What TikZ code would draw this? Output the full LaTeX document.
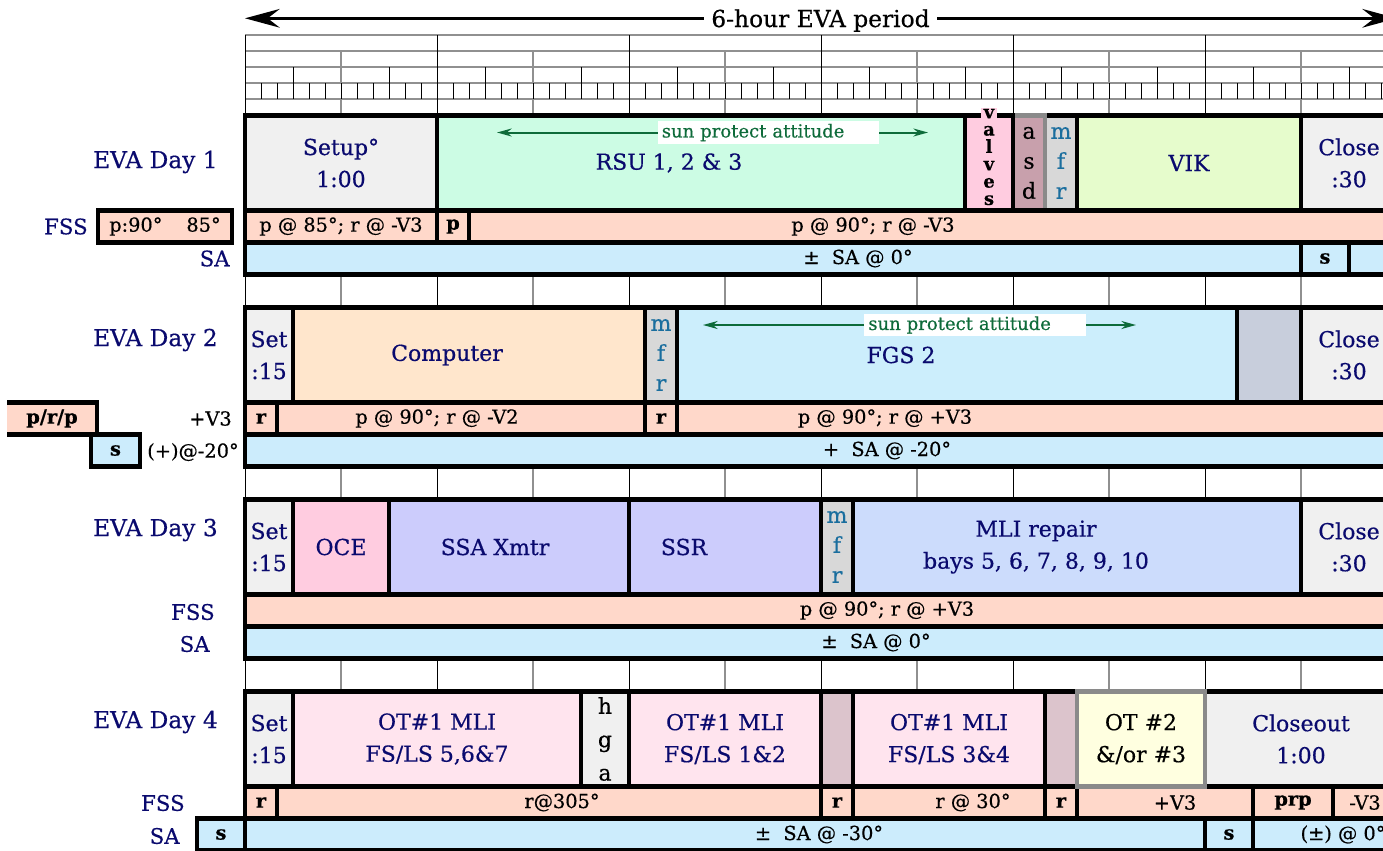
\documentclass[tikz,border=0pt]{standalone}
\usepackage{fontspec}
\setmainfont{DejaVu Serif}[FakeBold=0.45]
\usepackage{tikz}
\usetikzlibrary{arrows.meta}

\definecolor{Navy}{HTML}{0A0A6E}
\definecolor{MfrTeal}{HTML}{1A6E9E}
\definecolor{SunGreen}{HTML}{0E6B3A}
\definecolor{SetGray}{HTML}{F0F0F0}
\definecolor{RsuMint}{HTML}{CCFCE4}
\definecolor{ValvePink}{HTML}{FFCCE0}
\definecolor{AsdMauve}{HTML}{C8A0AC}
\definecolor{MfrGray}{HTML}{D8D8D8}
\definecolor{VikLime}{HTML}{E6FCCC}
\definecolor{FssPeach}{HTML}{FFD8CA}
\definecolor{SaBlue}{HTML}{CCECFC}
\definecolor{CompTan}{HTML}{FFE6CC}
\definecolor{FgsBlue}{HTML}{CCEEFC}
\definecolor{IdleSlate}{HTML}{C8CEDC}
\definecolor{SsaLilac}{HTML}{CCCCFC}
\definecolor{MliBlue}{HTML}{CCDCFC}
\definecolor{OtPink}{HTML}{FFE4EE}
\definecolor{GapMauve}{HTML}{DCC4CC}
\definecolor{OtCream}{HTML}{FFFFE0}
\definecolor{FrameGray}{HTML}{8A8A8A}
\definecolor{RuleGray}{HTML}{909090}

% font sizes (1px = 0.75pt)
\newcommand\titlefont{\fontsize{17.5}{21}\selectfont}
\newcommand\lblfont{\fontsize{17.5}{21}\selectfont}
\newcommand\sidefont{\fontsize{16}{19}\selectfont}
\newcommand\actfont{\fontsize{16.5}{24}\selectfont}
\newcommand\stkfont{\fontsize{16.5}{22.5}\selectfont}
\newcommand\attfont{\fontsize{14.5}{17}\selectfont}
\newcommand\sunfont{\fontsize{13.5}{16}\selectfont}
\newcommand\valvefont{\fontsize{13.5}{13}\selectfont}

% row edges of a day block (Day 1 values, later days are shifted)
\newcommand\actT{115.5}
\newcommand\actB{210.5}
\newcommand\fssB{242.5}
\newcommand\saB{274.5}

% \timeslot[opts]{name}{style}{x1}{x2}{y1}{y2}{text}
\newcommand\timeslot[8][]{%
  \node[#3, minimum width={(#5-#4)*0.75pt}, minimum height={(#7-#6)*0.75pt}, #1]
    (#2) at ({(#4+#5)/2},{(#6+#7)/2}) {#8};}

\tikzset{
  % Activity cell: thick black frame, fill colour as argument
  act/.style={
    rectangle, draw=black, line width=3.4pt, fill=#1,
    inner sep=0pt, outer sep=0pt,
    align=center, text=Navy, font=\actfont
  },
  % Attitude cell (FSS and SA rows)
  att/.style={
    rectangle, draw=black, line width=3.4pt, fill=#1,
    inner sep=0pt, outer sep=0pt,
    align=center, text=black, font=\attfont
  },
  attb/.style={font=\attfont\bfseries},
  % Letters stacked one per line in a narrow cell
  stk/.style={font=\stkfont, text=#1},
  % Text placed inside a wide cell
  acttxt/.style={text=Navy, font=\actfont, align=center, inner sep=0pt},
  atttxt/.style={text=black, font=\attfont, inner sep=0pt},
  valvetxt/.style={fill=ValvePink, font=\valvefont\bfseries, align=center,
    inner xsep=1.5pt, inner ysep=1pt},
  % Labels at the left
  daylbl/.style={anchor=east, text=Navy, font=\lblfont, inner sep=0pt},
  rowlbl/.style={anchor=east, text=Navy, font=\sidefont, inner sep=0pt},
  % Ruler
  rulerline/.style={RuleGray, line width=0.9pt},
  hourtick/.style={black, line width=0.75pt},
  halftick/.style={RuleGray, line width=1.6pt},
  % Sun protect attitude span
  sunlbl/.style={fill=white, text=SunGreen, font=\sunfont,
    text width=160pt, align=left, inner xsep=3pt, inner ysep=2pt,
    minimum height=17pt},
  sunarr/.style={-{Stealth[length=11pt,width=6pt]}, line width=1.5pt, color=SunGreen},
  % 6-hour span
  evatitle/.style={font=\titlefont, inner xsep=5.5pt, inner ysep=0pt},
  evaspan/.style={-{Stealth[length=26pt,width=14pt,inset=9pt]}, line width=2.2pt}
}

\begin{document}
\begin{tikzpicture}[x=0.75pt, y=-0.75pt]
  \useasboundingbox (0,0) rectangle (1383,850);

  % ---- HEADER ----
  \node[evatitle, anchor=base] (evat) at (820.5,27) {6-hour EVA period};
  \coordinate (evaL) at (245,18.3);
  \coordinate (evaR) at (1397,18.3);
  \draw[evaspan] (evat.west |- evaL) -- (evaL);
  \draw[evaspan] (evat.east |- evaR) -- (evaR);

  % ---- RULER: hour / half / quarter / 5 min ----
  \foreach \y in {35,51,67,83,99}
    \draw[rulerline] (245,\y) -- (1397,\y);
  \foreach \k in {0,...,71}
    \draw[hourtick] ({245+16*\k},83) -- ({245+16*\k},99);
  \foreach \k in {0,...,11}
    \draw[hourtick] ({293+96*\k},67) -- ({293+96*\k},83);
  \foreach \k in {0,...,5} {
    \draw[halftick] ({341+192*\k},51) -- ({341+192*\k},83);
    \draw[halftick] ({341+192*\k},99) -- ({341+192*\k},\actT);
  }
  \foreach \k in {0,...,6}
    \draw[hourtick] ({245+192*\k},35) -- ({245+192*\k},\actT);

  % ticks between the day blocks
  \foreach \g in {274.5,466.5,658.5} {
    \foreach \k in {0,...,6}
      \draw[hourtick] ({245+192*\k},\g) -- ({245+192*\k},{\g+33});
    \foreach \k in {0,...,5}
      \draw[halftick] ({341+192*\k},\g) -- ({341+192*\k},{\g+33});
  }

  % ---- EVA DAY 1 ----
  \timeslot{d1set}{act=SetGray}{245}{437}{\actT}{\actB}{Setup°\\1:00}
  \timeslot{d1rsu}{act=RsuMint}{437}{965}{\actT}{\actB}{}
  \node[acttxt] (d1rsut) at (669,163) {RSU 1, 2 \& 3};
  \timeslot{d1vik}{act=VikLime}{1077}{1301}{\actT}{\actB}{VIK}
  \timeslot{d1cls}{act=SetGray}{1301}{1397}{\actT}{\actB}{Close\\:30}
  \timeslot[stk=MfrTeal]{d1mfr}{act=MfrGray}{1045}{1077}{\actT}{\actB}{m\\f\\r}
  \timeslot[stk=black, draw=FrameGray]{d1asd}{act=AsdMauve}{1013}{1045}{\actT}{\actB}{a\\s\\d}
  \timeslot{d1vlv}{act=ValvePink}{965}{1013}{\actT}{\actB}{}
  \node[valvetxt] (d1vlvt) at (989,157) {v\\a\\l\\v\\e\\s};

  \node[sunlbl] (d1sun) at (768.5,132.5) {sun protect attitude};
  \coordinate (d1sunL) at (497,132.5);
  \coordinate (d1sunR) at (928,132.5);
  \draw[sunarr] (d1sun.west) -- (d1sunL);
  \draw[sunarr] (d1sun.east) -- (d1sunR);

  \timeslot{d1f1}{att=FssPeach}{245}{437}{\actB}{\fssB}{p @ 85°; r @ -V3}
  \timeslot[attb]{d1f2}{att=FssPeach}{437}{469}{\actB}{\fssB}{p}
  \timeslot{d1f3}{att=FssPeach}{469}{1397}{\actB}{\fssB}{}
  \node[atttxt] (d1f3t) at (873,226.5) {p @ 90°; r @ -V3};

  \timeslot{d1s1}{att=SaBlue}{245}{1301}{\fssB}{\saB}{}
  \node[atttxt] (d1s1t) at (858,258.5) {±~ SA @ 0°};
  \timeslot[attb]{d1s2}{att=SaBlue}{1301}{1349}{\fssB}{\saB}{s}
  \timeslot{d1s3}{att=SaBlue}{1349}{1397}{\fssB}{\saB}{}

  \node[daylbl] (d1lbl) at (218,162) {EVA Day 1};
  \node[rowlbl] (d1fss) at (88,226.5) {FSS};
  \timeslot{d1pin}{att=FssPeach}{98}{232}{\actB}{\fssB}{p:90°\hspace{18pt}85°}
  \node[rowlbl] (d1sa) at (230,258.5) {SA};

  % ---- EVA DAY 2 ----
  \begin{scope}[shift={(0,192)}]
    \timeslot{d2set}{act=SetGray}{245}{293}{\actT}{\actB}{Set\\:15}
    \timeslot{d2cmp}{act=CompTan}{293}{645}{\actT}{\actB}{}
    \node[acttxt] (d2cmpt) at (447,163) {Computer};
    \timeslot[stk=MfrTeal]{d2mfr}{act=MfrGray}{645}{677}{\actT}{\actB}{m\\f\\r}
    \timeslot{d2fgs}{act=FgsBlue}{677}{1237}{\actT}{\actB}{}
    \node[acttxt] (d2fgst) at (901,163) {FGS 2};
    \timeslot{d2idle}{act=IdleSlate}{1237}{1301}{\actT}{\actB}{}
    \timeslot{d2cls}{act=SetGray}{1301}{1397}{\actT}{\actB}{Close\\:30}

    \node[sunlbl] (d2sun) at (975,133) {sun protect attitude};
    \coordinate (d2sunL) at (703,133);
    \coordinate (d2sunR) at (1136,133);
    \draw[sunarr] (d2sun.west) -- (d2sunL);
    \draw[sunarr] (d2sun.east) -- (d2sunR);

    \timeslot[attb]{d2f1}{att=FssPeach}{245}{277}{\actB}{\fssB}{r}
    \timeslot{d2f2}{att=FssPeach}{277}{645}{\actB}{\fssB}{}
    \node[atttxt] (d2f2t) at (437,226.5) {p @ 90°; r @ -V2};
    \timeslot[attb]{d2f3}{att=FssPeach}{645}{677}{\actB}{\fssB}{r}
    \timeslot{d2f4}{att=FssPeach}{677}{1397}{\actB}{\fssB}{}
    \node[atttxt] (d2f4t) at (885,226.5) {p @ 90°; r @ +V3};

    \timeslot{d2s1}{att=SaBlue}{245}{1397}{\fssB}{\saB}{}
    \node[atttxt] (d2s1t) at (887,258.5) {+~ SA @ -20°};

    \node[daylbl] (d2lbl) at (218,148) {EVA Day 2};
    \timeslot[attb, draw=none]{d2prp}{att=FssPeach}{7}{97}{\actB}{\fssB}{p/r/p}
    \draw[line width=3.4pt] (d2prp.north west) -- (d2prp.north east)
      -- (d2prp.south east) -- (d2prp.south west);
    \node[atttxt, anchor=east] (d2v3) at (232,226.5) {+V3};
    \timeslot[attb]{d2sw}{att=SaBlue}{91}{140}{\fssB}{\saB}{s}
    \node[atttxt, anchor=west] (d2sw20) at (147,260) {(+)@-20°};
  \end{scope}

  % ---- EVA DAY 3 ----
  \begin{scope}[shift={(0,384)}]
    \timeslot{d3set}{act=SetGray}{245}{293}{\actT}{\actB}{Set\\:15}
    \timeslot{d3oce}{act=ValvePink}{293}{389}{\actT}{\actB}{OCE}
    \timeslot{d3ssa}{act=SsaLilac}{389}{629}{\actT}{\actB}{}
    \node[acttxt] (d3ssat) at (495,163) {SSA Xmtr};
    \timeslot{d3ssr}{act=SsaLilac}{629}{821}{\actT}{\actB}{}
    \node[acttxt] (d3ssrt) at (684,163) {SSR};
    \timeslot[stk=MfrTeal]{d3mfr}{act=MfrGray}{821}{853}{\actT}{\actB}{m\\f\\r}
    \timeslot{d3mli}{act=MliBlue}{853}{1301}{\actT}{\actB}{}
    \node[acttxt] (d3mlit) at (1036,163) {MLI repair\\bays 5, 6, 7, 8, 9, 10};
    \timeslot{d3cls}{act=SetGray}{1301}{1397}{\actT}{\actB}{Close\\:30}

    \timeslot{d3f1}{att=FssPeach}{245}{1397}{\actB}{\fssB}{}
    \node[atttxt] (d3f1t) at (887,226.5) {p @ 90°; r @ +V3};
    \timeslot{d3s1}{att=SaBlue}{245}{1397}{\fssB}{\saB}{}
    \node[atttxt] (d3s1t) at (876,258.5) {±~ SA @ 0°};

    \node[daylbl] (d3lbl) at (218,146) {EVA Day 3};
    \node[rowlbl] (d3fss) at (215,228) {FSS};
    \node[rowlbl] (d3sa) at (210,260) {SA};
  \end{scope}

  % ---- EVA DAY 4 ----
  \begin{scope}[shift={(0,576)}]
    \timeslot{d4set}{act=SetGray}{245}{293}{\actT}{\actB}{Set\\:15}
    \timeslot{d4ot1}{act=OtPink}{293}{581}{\actT}{\actB}{OT\#1 MLI\\FS/LS 5,6\&7}
    \timeslot[stk=black, font=\fontsize{16.5}{25}\selectfont]{d4hga}{act=SetGray}{581}{629}{\actT}{\actB}{h\\g\\a}
    \timeslot{d4ot2}{act=OtPink}{629}{821}{\actT}{\actB}{OT\#1 MLI\\FS/LS 1\&2}
    \timeslot{d4gap1}{act=GapMauve}{821}{853}{\actT}{\actB}{}
    \timeslot{d4ot3}{act=OtPink}{853}{1045}{\actT}{\actB}{OT\#1 MLI\\FS/LS 3\&4}
    \timeslot{d4gap2}{act=GapMauve}{1045}{1077}{\actT}{\actB}{}
    \timeslot{d4cls}{act=SetGray}{1205}{1397}{\actT}{\actB}{Closeout\\1:00}

    \timeslot[attb]{d4f1}{att=FssPeach}{245}{277}{\actB}{\fssB}{r}
    \timeslot{d4f2}{att=FssPeach}{277}{821}{\actB}{\fssB}{}
    \node[atttxt] (d4f2t) at (562,226.5) {r@305°};
    \timeslot[attb]{d4f3}{att=FssPeach}{821}{853}{\actB}{\fssB}{r}
    \timeslot{d4f4}{att=FssPeach}{853}{1045}{\actB}{\fssB}{}
    \node[atttxt] (d4f4t) at (973,226.5) {r @ 30°};
    \timeslot[attb]{d4f5}{att=FssPeach}{1045}{1077}{\actB}{\fssB}{r}
    \timeslot{d4f6}{att=FssPeach}{1077}{1253}{\actB}{\fssB}{}
    \node[atttxt] (d4f6t) at (1175,226.5) {+V3};
    \timeslot[attb]{d4f7}{att=FssPeach}{1253}{1333}{\actB}{\fssB}{prp}
    \timeslot{d4f8}{att=FssPeach}{1333}{1397}{\actB}{\fssB}{-V3}

    % OT #2 sits on top with its grey frame
    \timeslot[text=black, draw=FrameGray]{d4ot23}{act=OtCream}{1077}{1205}{\actT}{\actB}{OT \#2\\\&/or \#3}

    \timeslot[attb]{d4s0}{att=SaBlue}{197}{245}{\fssB}{\saB}{s}
    \timeslot{d4s1}{att=SaBlue}{245}{1205}{\fssB}{\saB}{}
    \node[atttxt] (d4s1t) at (819,258.5) {±~ SA @ -30°};
    \timeslot[attb]{d4s2}{att=SaBlue}{1205}{1253}{\fssB}{\saB}{s}
    \timeslot{d4s3}{att=SaBlue}{1253}{1397}{\fssB}{\saB}{}
    \node[atttxt] (d4s3t) at (1343,258.5) {(±) @ 0°};

    \node[daylbl] (d4lbl) at (218,146) {EVA Day 4};
    \node[rowlbl] (d4fss) at (185,227) {FSS};
    \node[rowlbl] (d4sa) at (180,260) {SA};
  \end{scope}

\end{tikzpicture}
\end{document}
